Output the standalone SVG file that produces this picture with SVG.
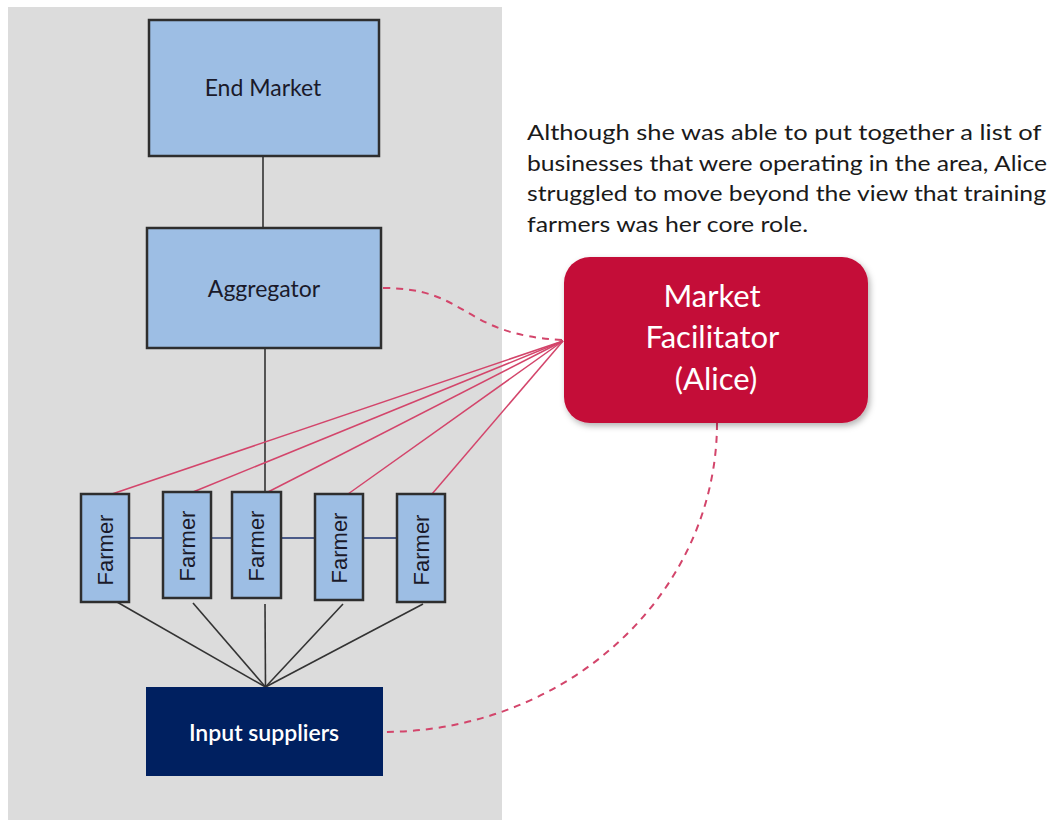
<svg xmlns="http://www.w3.org/2000/svg" width="1052" height="820" viewBox="0 0 1052 820">
  <style>
    .box { fill: #9dbee4; stroke: #2e2e2e; stroke-width: 2.5; }
    .lbl { font-family: Lato, "Open Sans", "Liberation Sans", sans-serif; font-size: 23px; fill: #1a1a2a; text-anchor: middle; }
    .farm { font-family: "Liberation Sans", Arial, sans-serif; font-size: 22px; fill: #1a1a2a; text-anchor: middle; }
    .dark { stroke: #333333; stroke-width: 1.6; fill: none; }
    .chain { stroke: #4a5a88; stroke-width: 1.8; fill: none; }
    .red { stroke: #d3456b; stroke-width: 1.5; fill: none; }
    .dash { stroke: #d3456b; stroke-width: 2; fill: none; stroke-dasharray: 7 6; }
    .white { font-family: Lato, "Open Sans", "Liberation Sans", sans-serif; fill: #ffffff; text-anchor: middle; }
    .note { font-family: Lato, "Open Sans", "Liberation Sans", sans-serif; font-size: 21px; fill: #1a1a1a; }
  </style>
  <defs>
    <filter id="shadow" x="-10%" y="-10%" width="130%" height="130%">
      <feDropShadow dx="2" dy="3" stdDeviation="3" flood-color="#000" flood-opacity="0.3"/>
    </filter>
  </defs>

  <rect width="1052" height="820" fill="#ffffff"/>
  <!-- shaded value-chain panel -->
  <rect x="8" y="7" width="494" height="813" fill="#dcdcdc"/>

  <g id="connectors">
    <line class="dark" x1="263" y1="156" x2="263" y2="228"/>
    <line class="dark" x1="265" y1="348" x2="265" y2="492"/>
    <!-- links between farmers -->
    <line class="chain" x1="129" y1="538" x2="163" y2="538"/>
    <line class="chain" x1="211" y1="538" x2="232" y2="538"/>
    <line class="chain" x1="281" y1="538" x2="315" y2="538"/>
    <line class="chain" x1="363" y1="538" x2="397" y2="538"/>
    <!-- farmers to input suppliers -->
    <line class="dark" x1="117" y1="602" x2="265.5" y2="687"/>
    <line class="dark" x1="193" y1="603" x2="265.5" y2="687"/>
    <line class="dark" x1="265" y1="604" x2="265.5" y2="687"/>
    <line class="dark" x1="343" y1="604" x2="265.5" y2="687"/>
    <line class="dark" x1="423" y1="604" x2="265.5" y2="687"/>
    <!-- facilitator to farmers -->
    <line class="red" x1="563" y1="341" x2="112" y2="494"/>
    <line class="red" x1="563" y1="341" x2="193" y2="492"/>
    <line class="red" x1="563" y1="341" x2="268" y2="492"/>
    <line class="red" x1="563" y1="341" x2="348" y2="494"/>
    <line class="red" x1="563" y1="341" x2="432" y2="494"/>
    <!-- dashed relationships -->
    <path class="dash" d="M383,288 C470,288 460,335 563,340"/>
    <path class="dash" d="M717,423 A334,309 0 0 1 384,732"/>
  </g>

  <g id="end-market">
    <rect class="box" x="149" y="20" width="230" height="136"/>
    <text class="lbl" x="263" y="96">End Market</text>
  </g>

  <g id="aggregator">
    <rect class="box" x="147" y="228" width="234" height="120"/>
    <text class="lbl" x="264" y="297">Aggregator</text>
  </g>

  <g id="farmer-1">
    <rect class="box" x="81" y="494" width="48" height="108"/>
    <text class="farm" transform="translate(113,550) rotate(-90)">Farmer</text>
  </g>
  <g id="farmer-2">
    <rect class="box" x="163" y="492" width="48" height="106"/>
    <text class="farm" transform="translate(195,546) rotate(-90)">Farmer</text>
  </g>
  <g id="farmer-3">
    <rect class="box" x="232" y="492" width="49" height="106"/>
    <text class="farm" transform="translate(264,546) rotate(-90)">Farmer</text>
  </g>
  <g id="farmer-4">
    <rect class="box" x="315" y="494" width="48" height="106"/>
    <text class="farm" transform="translate(347,548) rotate(-90)">Farmer</text>
  </g>
  <g id="farmer-5">
    <rect class="box" x="397" y="494" width="48" height="108"/>
    <text class="farm" transform="translate(429,550) rotate(-90)">Farmer</text>
  </g>

  <g id="input-suppliers">
    <rect x="146" y="687" width="237" height="89" fill="#002060"/>
    <text class="white" x="264" y="741" font-size="23" font-weight="600">Input suppliers</text>
  </g>

  <g id="market-facilitator">
    <rect x="564" y="257" width="304" height="166" rx="26" ry="26" fill="#c41039" filter="url(#shadow)"/>
    <text class="white" font-size="31">
      <tspan x="716" y="307">Market</tspan>
      <tspan x="716" y="348">Facilitator</tspan>
      <tspan x="716" y="390">(Alice)</tspan>
    </text>
  </g>

  <g id="note">
    <text class="note">
      <tspan x="527" y="140" textLength="514" lengthAdjust="spacingAndGlyphs">Although she was able to put together  a list of</tspan>
      <tspan x="527" y="171" textLength="520" lengthAdjust="spacingAndGlyphs">businesses that were operating in the area, Alice</tspan>
      <tspan x="527" y="201" textLength="519" lengthAdjust="spacingAndGlyphs">struggled to move beyond the view that training</tspan>
      <tspan x="527" y="232" textLength="281" lengthAdjust="spacingAndGlyphs">farmers was her core role.</tspan>
    </text>
  </g>
</svg>
